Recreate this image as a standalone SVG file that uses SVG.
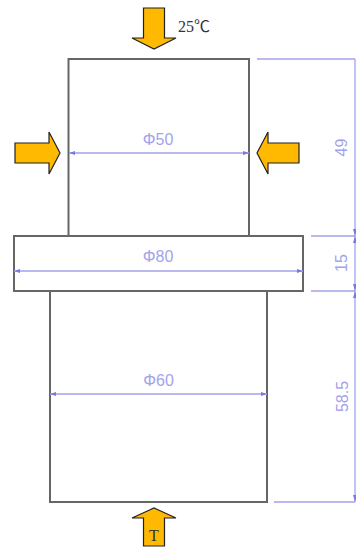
<svg xmlns="http://www.w3.org/2000/svg" width="356" height="547" viewBox="0 0 356 547">
<defs>
<style>
.body{fill:#fff;stroke:#666;stroke-width:2}
.arrow{fill:#ffb900;stroke:#222;stroke-width:1.2}
.dim{stroke:#a3a3ec;stroke-width:1.3;fill:none}
.head{fill:#7a7ade}
.dimt{font-family:"Liberation Sans",Arial,sans-serif;font-size:16px;fill:#a3a3ec;text-anchor:middle}
.lbl{font-family:"Liberation Serif","Noto Sans CJK TC",serif;fill:#333}
</style>
</defs>
<rect width="356" height="547" fill="#fff"/>
<g id="upper-cylinder"><rect class="body" x="68.500" y="59" width="180.500" height="177"/></g>
<g id="lower-cylinder"><rect class="body" x="50" y="291" width="217" height="211"/></g>
<g id="flange"><rect class="body" x="14" y="236" width="289" height="55"/></g>
<g id="connectors">
<path class="dim" d="M69 153H249M14 271H303M50 394H267M257 59H355M311 236H355M311 291H355M274 502H355M355 59V502"/>
<path class="head" d="M69 153l6-2v4zM249 153l-6-2v4zM14 271l6-2v4zM303 271l-6-2v4zM50 394l6-2v4zM267 394l-6-2v4zM355 236l-2-7h4zM355 236l-2 7h4zM355 291l-2-7h4zM355 291l-2 7h4zM355 502l-2-7h4z"/>
</g>
<g id="dim-labels">
<text class="dimt" x="158" y="145">Φ50</text>
<text class="dimt" x="158" y="262">Φ80</text>
<text class="dimt" x="158.500" y="386">Φ60</text>
<text class="dimt" transform="translate(347 147.500) rotate(-90)">49</text>
<text class="dimt" transform="translate(347 263) rotate(-90)">15</text>
<text class="dimt" transform="translate(347.500 396.500) rotate(-90)">58.5</text>
</g>
<g id="arrow-top"><path class="arrow" d="M143.500 8H164.500V38H176L154 49L132 38H143.500Z"/>
<text class="lbl" x="178" y="32" font-size="16">25℃</text></g>
<g id="arrow-left"><path class="arrow" d="M15 143H49V132L60 153L49 174V163H15Z"/></g>
<g id="arrow-right"><path class="arrow" d="M299 143H268V132L257 153L268 174V163H299Z"/></g>
<g id="arrow-bottom"><path class="arrow" d="M143.500 546V518H132L154 508L176 518H164.500V546Z"/>
<text class="lbl" x="154" y="541" font-size="16" text-anchor="middle">T</text></g>
</svg>
